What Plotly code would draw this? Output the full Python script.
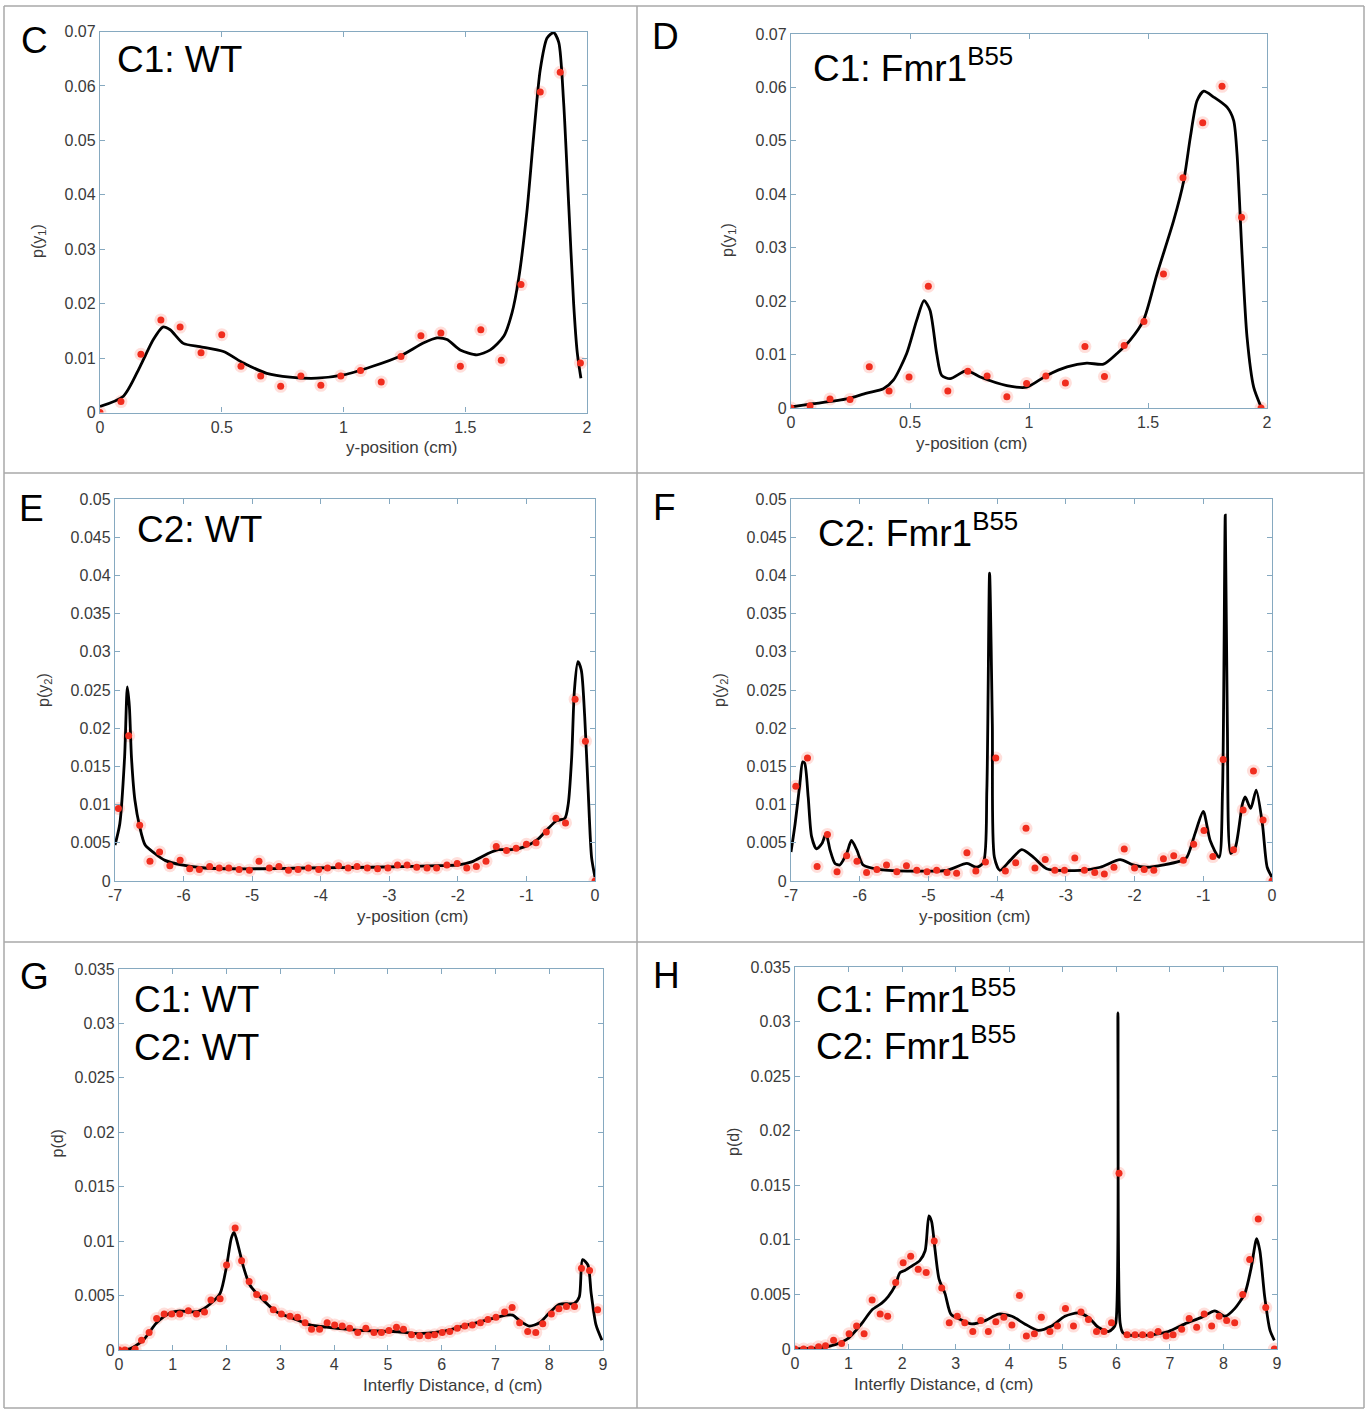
import plotly.graph_objects as go

W, H = 1367, 1410

# ---------------- Data ----------------
# Panel C : C1 WT
c_pts_x = [0, 0.086, 0.168, 0.25, 0.329, 0.415, 0.5, 0.579, 0.66, 0.742, 0.825, 0.907, 0.989,
           1.07, 1.155, 1.236, 1.318, 1.4, 1.48, 1.564, 1.648, 1.729, 1.808, 1.89, 1.973]
c_pts_y = [0, 0.002, 0.0107, 0.017, 0.0157, 0.011, 0.0143, 0.0085, 0.0067, 0.0048, 0.0067, 0.005,
           0.0067, 0.0077, 0.0056, 0.0103, 0.0141, 0.0146, 0.0085, 0.0152, 0.0096, 0.0235, 0.0589,
           0.0625, 0.0091]
c_fit_x = [0, 0.096, 0.164, 0.219, 0.258, 0.288, 0.342, 0.41, 0.507, 0.589, 0.685, 0.78, 0.89, 1.0,
           1.12, 1.23, 1.33, 1.384, 1.425, 1.479, 1.548, 1.603, 1.658, 1.692, 1.719, 1.753, 1.781,
           1.808, 1.836, 1.863, 1.884, 1.904, 1.925, 1.945, 1.96, 1.975]
c_fit_y = [0.0011, 0.003, 0.0084, 0.0134, 0.0157, 0.0152, 0.0127, 0.0121, 0.0112, 0.0091, 0.0072,
           0.0065, 0.0063, 0.0069, 0.0085, 0.0103, 0.0128, 0.0137, 0.0134, 0.0115, 0.0106, 0.0115,
           0.014, 0.0183, 0.0245, 0.0368, 0.0508, 0.063, 0.0688, 0.0698, 0.068, 0.057, 0.038, 0.0201,
           0.011, 0.0063]

# Panel D : C1 Fmr1 B55
d_pts_x = [0, 0.08, 0.164, 0.248, 0.329, 0.412, 0.496, 0.577, 0.659, 0.743, 0.824, 0.907, 0.99,
           1.071, 1.153, 1.235, 1.317, 1.4, 1.483, 1.565, 1.647, 1.73, 1.811, 1.893, 1.975]
d_pts_y = [0, 0.0004, 0.0017, 0.0016, 0.0077, 0.0032, 0.0058, 0.0228, 0.0032, 0.0069, 0.006, 0.0021,
           0.0046, 0.006, 0.0047, 0.0115, 0.0059, 0.0117, 0.0162, 0.0251, 0.0431, 0.0534, 0.0602,
           0.0357, 0.0]
d_fit_x = [0, 0.094, 0.234, 0.318, 0.388, 0.43, 0.486, 0.528, 0.559, 0.584, 0.612, 0.633, 0.669,
           0.738, 0.795, 0.907, 0.99, 1.075, 1.16, 1.243, 1.313, 1.37, 1.425, 1.481, 1.538, 1.608,
           1.65, 1.678, 1.706, 1.734, 1.776, 1.832, 1.86, 1.874, 1.895, 1.916, 1.944, 1.975]
d_fit_y = [0.0002, 0.0008, 0.0017, 0.0028, 0.0036, 0.0052, 0.0102, 0.0164, 0.0201, 0.0183, 0.0102,
           0.0061, 0.0055, 0.007, 0.0058, 0.0042, 0.0039, 0.0061, 0.0077, 0.0084, 0.0082, 0.0102,
           0.0127, 0.0164, 0.0251, 0.0351, 0.0425, 0.0507, 0.0575, 0.0593, 0.0582, 0.0563, 0.0538,
           0.0476, 0.0289, 0.0133, 0.0039, 0.0002]

# Panel E : C2 WT
e_pts_x = [-6.95, -6.80, -6.64, -6.49, -6.35, -6.2, -6.05, -5.91, -5.77, -5.62, -5.48, -5.34, -5.19,
           -5.04, -4.9, -4.75, -4.61, -4.47, -4.33, -4.18, -4.03, -3.9, -3.74, -3.6, -3.47, -3.32,
           -3.17, -3.02, -2.88, -2.74, -2.6, -2.45, -2.31, -2.16, -2.01, -1.87, -1.73, -1.59, -1.44,
           -1.29, -1.15, -1.0, -0.86, -0.71, -0.57, -0.43, -0.29, -0.14, 0]
e_pts_y = [0.0095, 0.019, 0.0073, 0.0026, 0.0038, 0.002, 0.0027, 0.0016, 0.0015, 0.0019, 0.0017,
           0.0017, 0.0015, 0.0014, 0.0026, 0.0017, 0.0019, 0.0014, 0.0015, 0.0017, 0.0015, 0.0017,
           0.002, 0.0017, 0.0019, 0.0017, 0.0016, 0.0017, 0.0021, 0.0021, 0.0018, 0.0017, 0.0017,
           0.0021, 0.0023, 0.0017, 0.0019, 0.0026, 0.0045, 0.004, 0.0043, 0.0048, 0.005, 0.0064,
           0.0082, 0.0076, 0.0238, 0.0183, 0]
e_fit_x = [-7, -6.93, -6.86, -6.82, -6.79, -6.76, -6.71, -6.64, -6.56, -6.42, -6.27, -6.03, -5.69,
           -5.06, -4.23, -3.26, -2.28, -1.99, -1.8, -1.56, -1.41, -1.22, -1.02, -0.83, -0.68, -0.56,
           -0.44, -0.39, -0.34, -0.3, -0.25, -0.2, -0.15, -0.1, -0.05, 0]
e_fit_y = [0.0047, 0.0075, 0.0162, 0.0254, 0.0228, 0.0162, 0.0106, 0.0071, 0.0047, 0.0036, 0.0027,
           0.0021, 0.0017, 0.0016, 0.0017, 0.0018, 0.002, 0.0021, 0.0025, 0.0036, 0.0041, 0.0041,
           0.0045, 0.0055, 0.0069, 0.0079, 0.0082, 0.0101, 0.0162, 0.025, 0.0287, 0.0276, 0.0215,
           0.0119, 0.0031, 0.0005]

# Panel F : C2 Fmr1 B55
f_pts_x = [-6.93, -6.76, -6.62, -6.47, -6.33, -6.19, -6.04, -5.9, -5.75, -5.61, -5.46, -5.32, -5.17,
           -5.02, -4.88, -4.73, -4.59, -4.44, -4.31, -4.17, -4.02, -3.88, -3.73, -3.58, -3.45, -3.3,
           -3.16, -3.02, -2.87, -2.73, -2.58, -2.44, -2.3, -2.15, -2.0, -1.86, -1.72, -1.58, -1.43,
           -1.29, -1.14, -0.99, -0.86, -0.71, -0.56, -0.42, -0.27, -0.13, 0]
f_pts_y = [0.0124, 0.0161, 0.0019, 0.0061, 0.0012, 0.0033, 0.0026, 0.0011, 0.0015, 0.0021, 0.0012,
           0.002, 0.0014, 0.0012, 0.0014, 0.0011, 0.001, 0.0037, 0.0013, 0.0025, 0.0161, 0.0013,
           0.0024, 0.0069, 0.0017, 0.0028, 0.0014, 0.0014, 0.003, 0.0014, 0.0011, 0.0009, 0.0018,
           0.0042, 0.0017, 0.0015, 0.0014, 0.0029, 0.0033, 0.0027, 0.0048, 0.0066, 0.0032, 0.0159,
           0.0041, 0.0093, 0.0144, 0.008, 0]
f_fit_x = [-7, -6.94, -6.87, -6.83, -6.8, -6.75, -6.7, -6.63, -6.55, -6.49, -6.43, -6.36, -6.29,
           -6.19, -6.12, -6.04, -5.95, -5.7, -5.22, -4.73, -4.44, -4.3, -4.2, -4.15, -4.11, -4.07,
           -4.04, -3.96, -3.81, -3.64, -3.47, -3.28, -2.79, -2.5, -2.21, -2.02, -1.82, -1.34, -1.24,
           -1.12, -1.0, -0.9, -0.77, -0.72, -0.68, -0.65, -0.6, -0.53, -0.43, -0.39, -0.31, -0.23,
           -0.14, -0.07, 0]
f_fit_y = [0.0038, 0.0075, 0.0128, 0.0156, 0.0154, 0.011, 0.0058, 0.0042, 0.0049, 0.0062, 0.004,
           0.0023, 0.0021, 0.0036, 0.0053, 0.004, 0.0021, 0.0015, 0.0013, 0.0014, 0.0023, 0.0018,
           0.0024, 0.0119, 0.0403, 0.0206, 0.0031, 0.0014, 0.0027, 0.0041, 0.0031, 0.0016, 0.0014,
           0.0018, 0.0028, 0.0021, 0.0018, 0.0026, 0.0031, 0.0062, 0.0091, 0.0053, 0.0031, 0.0119,
           0.0479, 0.0206, 0.0036, 0.0045, 0.0101, 0.011, 0.0095, 0.0119, 0.0075, 0.0018, 0.0005]

# Panel G : C1 WT / C2 WT
g_pts_x = [0, 0.11, 0.3, 0.42, 0.56, 0.7, 0.84, 0.98, 1.13, 1.29, 1.44, 1.59, 1.71, 1.88, 2.0, 2.16,
           2.28, 2.42, 2.56, 2.71, 2.87, 3.02, 3.18, 3.32, 3.46, 3.58, 3.73, 3.87, 4.01, 4.15, 4.29,
           4.44, 4.59, 4.74, 4.88, 5.02, 5.16, 5.29, 5.44, 5.59, 5.75, 5.87, 6.01, 6.15, 6.29, 6.43,
           6.57, 6.72, 6.86, 7.01, 7.17, 7.31, 7.45, 7.6, 7.75, 7.88, 8.04, 8.18, 8.32, 8.47, 8.6,
           8.75, 8.9]
g_pts_y = [0, 0, 0.0001, 0.0009, 0.0016, 0.0029, 0.0033, 0.0033, 0.0033, 0.0036, 0.0033, 0.0035,
           0.0046, 0.0047, 0.0078, 0.0112, 0.0082, 0.0063, 0.0051, 0.0048, 0.0037, 0.0033, 0.0031,
           0.003, 0.0025, 0.0019, 0.0019, 0.0025, 0.0023, 0.0022, 0.002, 0.0016, 0.002, 0.0016,
           0.0016, 0.0018, 0.0021, 0.0019, 0.0014, 0.0013, 0.0013, 0.0014, 0.0016, 0.0017, 0.002,
           0.0022, 0.0023, 0.0025, 0.0028, 0.003, 0.0035, 0.0039, 0.0025, 0.0017, 0.0016, 0.0024,
           0.0033, 0.0038, 0.004, 0.004, 0.0075, 0.0073, 0.0037]
g_fit_x = [0, 0.2, 0.45, 0.7, 0.95, 1.13, 1.32, 1.5, 1.69, 1.88, 2.0, 2.09, 2.14, 2.22, 2.31, 2.43,
           2.62, 2.93, 3.24, 3.55, 3.86, 4.48, 5.1, 5.59, 6.02, 6.33, 6.64, 6.95, 7.2, 7.32, 7.45,
           7.63, 7.82, 8.0, 8.19, 8.47, 8.56, 8.62, 8.72, 8.78, 8.87, 8.98]
g_fit_y = [0, 0.0001, 0.0009, 0.0025, 0.0034, 0.0036, 0.0035, 0.0036, 0.0042, 0.0052, 0.0077,
           0.0103, 0.0108, 0.0095, 0.0077, 0.006, 0.0049, 0.0035, 0.0029, 0.0023, 0.0021, 0.0018,
           0.0017, 0.0015, 0.0017, 0.0021, 0.0025, 0.0029, 0.0032, 0.0032, 0.0027, 0.0022, 0.0025,
           0.0034, 0.0042, 0.0043, 0.0049, 0.0083, 0.0078, 0.0052, 0.0023, 0.0009]

# Panel H : C1 Fmr1 / C2 Fmr1
h_pts_x = [0, 0.16, 0.3, 0.44, 0.57, 0.72, 0.87, 1.01, 1.15, 1.29, 1.44, 1.59, 1.73, 1.88, 2.02,
           2.16, 2.3, 2.45, 2.6, 2.74, 2.88, 3.03, 3.17, 3.32, 3.47, 3.61, 3.75, 3.9, 4.05, 4.19,
           4.32, 4.47, 4.6, 4.76, 4.9, 5.05, 5.2, 5.34, 5.48, 5.63, 5.77, 5.91, 6.05, 6.2, 6.35,
           6.49, 6.64, 6.78, 6.93, 7.06, 7.22, 7.36, 7.5, 7.64, 7.78, 7.92, 8.06, 8.21, 8.36, 8.49,
           8.65, 8.79, 8.95]
h_pts_y = [0, 0, 0, 0.0002, 0.0003, 0.0008, 0.0005, 0.0014, 0.0021, 0.0014, 0.0045, 0.0032, 0.003,
           0.0061, 0.0079, 0.0085, 0.0073, 0.007, 0.0099, 0.0056, 0.0024, 0.003, 0.0024, 0.0016,
           0.0026, 0.0016, 0.0025, 0.0029, 0.0022, 0.0049, 0.0012, 0.0014, 0.0029, 0.0016, 0.0021,
           0.0037, 0.0021, 0.0034, 0.0027, 0.0016, 0.0016, 0.0024, 0.0161, 0.0013, 0.0013, 0.0013,
           0.0013, 0.0016, 0.0012, 0.0013, 0.0018, 0.0028, 0.002, 0.0032, 0.0021, 0.003, 0.0026,
           0.0024, 0.005, 0.0082, 0.0119, 0.0038, 0]
h_fit_x = [0, 0.44, 0.75, 1.0, 1.24, 1.44, 1.62, 1.74, 1.87, 1.96, 2.05, 2.18, 2.33, 2.43, 2.5, 2.55,
           2.61, 2.69, 2.8, 2.91, 3.05, 3.3, 3.55, 3.8, 4.05, 4.29, 4.54, 4.79, 5.04, 5.29, 5.48,
           5.66, 5.85, 5.94, 5.99, 6.03, 6.07, 6.12, 6.2, 6.66, 6.97, 7.28, 7.59, 7.84, 8.03, 8.21,
           8.4, 8.52, 8.62, 8.68, 8.77, 8.87, 8.95]
h_fit_y = [0, 0.0001, 0.0004, 0.001, 0.0023, 0.0036, 0.0042, 0.0048, 0.0058, 0.007, 0.0072, 0.0076,
           0.0081, 0.009, 0.0122, 0.0117, 0.0093, 0.0064, 0.0051, 0.0032, 0.0028, 0.0023, 0.0026,
           0.0032, 0.003, 0.0023, 0.0017, 0.0021, 0.003, 0.0033, 0.0029, 0.002, 0.0016, 0.0019,
           0.0024, 0.0308, 0.0024, 0.0015, 0.0013, 0.0013, 0.0016, 0.0023, 0.0029, 0.0035, 0.003,
           0.0037, 0.0051, 0.0075, 0.0101, 0.009, 0.0048, 0.0017, 0.0008]

# Labels
panel_letters = ["C", "D", "E", "F", "G", "H"]
inset_labels = [["C1: WT"], ["C1: Fmr1<sup>B55</sup>"], ["C2: WT"], ["C2: Fmr1<sup>B55</sup>"],
                ["C1: WT", "C2: WT"], ["C1: Fmr1<sup>B55</sup>", "C2: Fmr1<sup>B55</sup>"]]
y_titles = ["p(y<sub>1</sub>)", "p(y<sub>1</sub>)", "p(y<sub>2</sub>)", "p(y<sub>2</sub>)", "p(d)", "p(d)"]
x_titles = ["y-position (cm)", "y-position (cm)", "y-position (cm)", "y-position (cm)",
            "Interfly Distance, d (cm)", "Interfly Distance, d (cm)"]
x_ticks_c = [0, 0.5, 1, 1.5, 2]
x_ticks_e = [-7, -6, -5, -4, -3, -2, -1, 0]
x_ticks_g = [0, 1, 2, 3, 4, 5, 6, 7, 8, 9]

panels = [
    dict(px=(c_pts_x, c_pts_y), fit=(c_fit_x, c_fit_y), xr=[0, 2], yr=[0, 0.07], dy=0.01,
         xt=x_ticks_c, box=(100, 587, 31.5, 412.5)),
    dict(px=(d_pts_x, d_pts_y), fit=(d_fit_x, d_fit_y), xr=[0, 2], yr=[0, 0.07], dy=0.01,
         xt=x_ticks_c, box=(791, 1267, 34, 408)),
    dict(px=(e_pts_x, e_pts_y), fit=(e_fit_x, e_fit_y), xr=[-7, 0], yr=[0, 0.05], dy=0.005,
         xt=x_ticks_e, box=(115, 595, 499, 881)),
    dict(px=(f_pts_x, f_pts_y), fit=(f_fit_x, f_fit_y), xr=[-7, 0], yr=[0, 0.05], dy=0.005,
         xt=x_ticks_e, box=(791, 1272, 499, 881)),
    dict(px=(g_pts_x, g_pts_y), fit=(g_fit_x, g_fit_y), xr=[0, 9], yr=[0, 0.035], dy=0.005,
         xt=x_ticks_g, box=(119, 603, 969, 1350)),
    dict(px=(h_pts_x, h_pts_y), fit=(h_fit_x, h_fit_y), xr=[0, 9], yr=[0, 0.035], dy=0.005,
         xt=x_ticks_g, box=(795, 1277, 967, 1349)),
]

FONT = "Liberation Sans, Arial, Helvetica, sans-serif"
AXC = "#86a9c0"
TXT = "#3a3a3a"
RED = "rgb(240,45,30)"

fig = go.Figure()
layout = dict(width=W, height=H, margin=dict(l=0, r=0, t=0, b=0, pad=0, autoexpand=False),
              paper_bgcolor="white", plot_bgcolor="white", showlegend=False,
              font=dict(family=FONT, color=TXT, size=15))
annotations = []
shapes = []

def fx(p):
    return p / W

def fy(p):
    return 1 - p / H

for i, p in enumerate(panels):
    n = "" if i == 0 else str(i + 1)
    xa, ya = "x" + n, "y" + n
    x0, x1, y0, y1 = p["box"]
    # glow
    fig.add_trace(go.Scatter(x=p["px"][0], y=p["px"][1], mode="markers", xaxis=xa, yaxis=ya,
                             marker=dict(size=13, color="rgba(255,110,90,0.22)"), hoverinfo="skip"))
    fig.add_trace(go.Scatter(x=p["fit"][0], y=p["fit"][1], mode="lines", xaxis=xa, yaxis=ya,
                             line=dict(color="black", width=2.8, shape="spline", smoothing=0.7)))
    fig.add_trace(go.Scatter(x=p["px"][0], y=p["px"][1], mode="markers", xaxis=xa, yaxis=ya,
                             marker=dict(size=7, color=RED)))
    ticktext = [str(t) if t >= 0 else "-" + str(-t) for t in p["xt"]]
    common = dict(showgrid=False, zeroline=False, showline=True, linecolor=AXC, linewidth=1.3,
                  mirror="ticks", ticks="inside", ticklen=5, tickcolor=AXC, automargin=False,
                  tickfont=dict(size=16, color=TXT, family=FONT))
    layout["xaxis" + n] = dict(domain=[fx(x0), fx(x1)], range=p["xr"], anchor=ya,
                               tickvals=p["xt"], ticktext=ticktext, **common)
    layout["yaxis" + n] = dict(domain=[fy(y1), fy(y0)], range=p["yr"], anchor=xa, dtick=p["dy"],
                               tick0=0, **common)
    # axis titles
    annotations.append(dict(xref="paper", yref="paper", x=fx((x0 + x1) / 2), y=fy(y1 + 35),
                            text=x_titles[i], showarrow=False, yanchor="middle",
                            font=dict(size=17, color=TXT, family=FONT)))
    left_off = 62 if i in (0, 1) else (70 if i in (2, 3) else 62)
    annotations.append(dict(xref="paper", yref="paper", x=fx(x0 - left_off), y=fy((y0 + y1) / 2),
                            text=y_titles[i], showarrow=False, textangle=-90, xanchor="center",
                            font=dict(size=16, color=TXT, family=FONT)))

# panel letters
letter_pos = [(34, 40), (665, 37), (31, 508), (664, 507), (34, 976), (666, 975)]
for L, (lx, ly) in zip(panel_letters, letter_pos):
    annotations.append(dict(xref="paper", yref="paper", x=fx(lx), y=fy(ly), text=L,
                            showarrow=False, xanchor="center", yanchor="middle",
                            font=dict(size=37, color="black", family=FONT)))

# inset labels
inset_pos = [[(115, 60)], [(811, 66)], [(135, 529)], [(816, 530)],
             [(132, 999), (132, 1047)], [(814, 996), (814, 1043)]]
for labs, poss in zip(inset_labels, inset_pos):
    for t, (lx, ly) in zip(labs, poss):
        annotations.append(dict(xref="paper", yref="paper", x=fx(lx), y=fy(ly), text=t,
                                showarrow=False, xanchor="left", yanchor="middle",
                                font=dict(size=37, color="black", family=FONT)))

# frame / separators
lc = "#a8a8a8"
for (xa0, ya0, xa1, ya1) in [(4, 6, 1364, 6), (4, 473, 1364, 473), (4, 942, 1364, 942),
                             (4, 1408, 1364, 1408), (4, 6, 4, 1408), (637, 6, 637, 1408),
                             (1364, 6, 1364, 1408)]:
    shapes.append(dict(type="line", xref="paper", yref="paper", x0=fx(xa0), y0=fy(ya0),
                       x1=fx(xa1), y1=fy(ya1), line=dict(color=lc, width=1.5)))

layout["annotations"] = annotations
layout["shapes"] = shapes
fig.update_layout(**layout)
fig.write_html("out.html", config={"displayModeBar": False},
               post_script="document.body.style.margin='0';document.body.style.padding='0';"
                           "document.body.style.overflow='hidden';")
